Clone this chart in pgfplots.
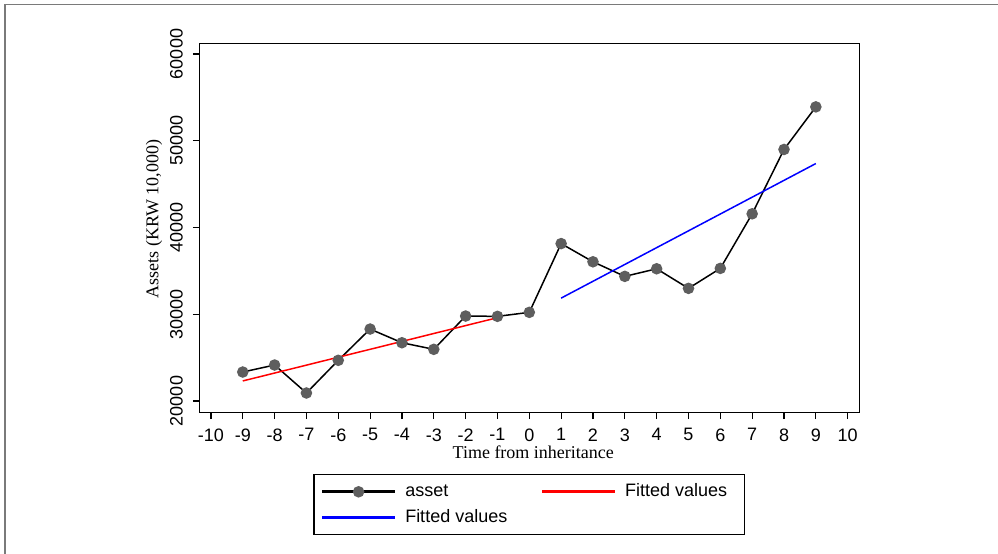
\documentclass[border=0pt]{standalone}
\usepackage{pgfplots}
\pgfplotsset{compat=1.18}
\usepackage{fontspec}
\setmainfont{Liberation Sans}
\newfontfamily\seriffont{Liberation Serif}
\definecolor{markgray}{HTML}{5E5E5E}
\definecolor{framegray}{HTML}{7A7A7A}
\begin{document}
\begin{tikzpicture}
\path[use as bounding box] (0,0) rectangle (499bp,277bp);
\draw[framegray, line width=0.8bp] (2.5bp,0) -- (2.5bp,274.75bp) -- (499bp,274.75bp);
\begin{axis}[
  at={(99.65bp,70.65bp)}, anchor=south west,
  width=330bp, height=184.7bp, scale only axis,
  xmin=-10.365, xmax=10.365, ymin=18651, ymax=61233,
  xtick={-10,...,10}, ytick={20000,30000,40000,50000,60000},
  scaled y ticks=false,
  /pgf/number format/1000 sep={},
  /pgf/number format/assume math mode=true,
  axis line style={black, line width=0.65bp},
  tick style={black, line width=0.6bp},
  major tick length=3.25bp,
  tick align=outside,
  xtick pos=bottom, ytick pos=left,
  tick label style={font=\fontsize{9bp}{10bp}\selectfont},
  xticklabel style={anchor=north, inner sep=0pt, yshift=-4.5bp},
  yticklabel style={rotate=90, anchor=south, inner sep=0pt, yshift=4.75bp},
  xlabel={\seriffont Time from inheritance},
  ylabel={\seriffont Assets (KRW 10,000)},
  label style={font=\fontsize{9bp}{10bp}\selectfont},
  xlabel style={at={(axis description cs:0.5,0)}, anchor=base, yshift=-22.65bp, xshift=2bp},
  ylabel style={at={(axis description cs:0,0.5)}, anchor=center, yshift=22.65bp, xshift=4.5bp},
  legend columns=2,
  legend cell align=left,
  legend style={at={(axis description cs:0.5,0)}, anchor=north, yshift=-30.65bp,
    draw=black, line width=0.6bp, inner xsep=4.15bp, inner ysep=2.2bp,
    font=\fontsize{9bp}{10bp}\selectfont,
    nodes={inner sep=0pt, text height=8.75bp, text depth=4.05bp},
    /tikz/every odd column/.append style={column sep=5.2bp},
    /tikz/every even column/.append style={column sep=17.5bp}},
]
\addplot[black, line width=0.75bp, mark=*, mark size=2.5bp, mark options={fill=markgray, draw=markgray},
  legend image code/.code={\fill[black] (0bp,-0.45bp) rectangle (35.5bp,0.45bp);
    \fill[markgray] (17.75bp,0bp) circle (2.5bp);}] coordinates {
(-9,23340) (-8,24147) (-7,20922) (-6,24689) (-5,28294) (-4,26716) (-3,25956) (-2,29792) (-1,29757)
(0,30218) (1,38144) (2,36047) (3,34365) (4,35241) (5,32983) (6,35287) (7,41577) (8,48995) (9,53903)};
\addlegendentry{asset}
\addplot[red, line width=0.75bp, no markers,
  legend image code/.code={\fill[red] (0bp,-0.45bp) rectangle (35.5bp,0.45bp);}]
  coordinates {(-9,22311) (-1,29603)};
\addlegendentry{Fitted values\kern4.5bp}
\addplot[blue, line width=0.75bp, no markers, forget plot]
  coordinates {(1,31860) (9,47372)};
\addlegendimage{blue, line width=0.75bp, legend image code/.code={\fill[blue] (0bp,-0.45bp) rectangle (35.5bp,0.45bp);}}
\addlegendentry{Fitted values}
\addlegendimage{empty legend}
\addlegendentry{}
\end{axis}
\end{tikzpicture}
\end{document}
